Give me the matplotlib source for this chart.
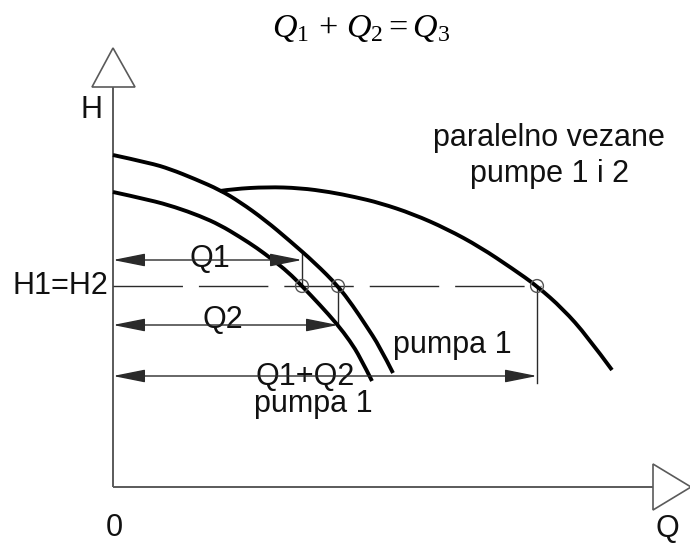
import matplotlib
matplotlib.use("Agg")
import matplotlib.pyplot as plt
from matplotlib.patches import Polygon, FancyArrowPatch, PathPatch
from matplotlib.path import Path

plt.rcParams["font.family"] = ["Liberation Sans", "DejaVu Sans"]
plt.rcParams["mathtext.fontset"] = "custom"
plt.rcParams["mathtext.rm"] = "Liberation Serif"
plt.rcParams["mathtext.it"] = "Liberation Serif:italic"

# pump characteristic curves, (Q, H) in diagram units
pump_upper_q = [0, 37, 57, 82, 107, 127, 152, 177, 202, 225, 240, 252, 267, 280]
pump_upper_h = [332, 324, 318, 308, 297, 285, 267, 246, 224, 201, 181, 163, 140, 114]

pump_lower_q = [0, 37, 62, 87, 107, 127, 144, 160, 175, 189, 207, 224, 237, 247, 259]
pump_lower_h = [295, 287, 280, 271, 262, 250, 239, 227, 215, 201, 182, 163, 146, 130, 106]

parallel_q = [107, 120, 154, 187, 217, 242, 267, 300, 334, 367, 400, 424, 450, 474, 499]
parallel_h = [296, 298, 300, 299, 295, 290, 284, 273, 258, 240, 218, 201, 178, 151, 117]

# operating point: common head and the flows read at it
head_common = 201
flow_q1 = 189
flow_q2 = 225
flow_total = 424

# heights of the dimension arrows
dim_h_q1 = 227
dim_h_q2 = 162
dim_h_total = 111

title_text = r"$\mathit{Q_1}\,+\,\mathit{Q_2}=\mathit{Q_3}$"
lbl_q1, lbl_q2, lbl_total = "Q1", "Q2", "Q1+Q2"
lbl_pump = "pumpa 1"
lbl_parallel = "paralelno vezane\npumpe 1 i 2"
lbl_head = "H1=H2"

fig = plt.figure(figsize=(6.9, 5.43), dpi=100)
ax = fig.add_axes([0, 0, 1, 1])
ax.set_xlim(-113, 577)
ax.set_ylim(-56, 487)
ax.axis("off")

axis_col = "#5a5a5a"
thin_col = "#2a2a2a"
txt_col = "#111111"

# coordinate axes with hollow arrow tips
ax.plot([0, 0], [0, 400], color=axis_col, lw=1.4, solid_capstyle="butt")
ax.plot([0, 540], [0, 0], color=axis_col, lw=1.4, solid_capstyle="butt")
ax.add_patch(Polygon([(-21, 400), (22, 400), (0, 439)], closed=True,
                     facecolor="white", edgecolor=axis_col, lw=1.2))
ax.add_patch(Polygon([(540, -23), (540, 23), (578, 0)], closed=True,
                     facecolor="white", edgecolor=axis_col, lw=1.2))


def smooth_curve(qs, hs):
    """Quadratic Bezier chain using the read points as control points."""
    pts = list(zip(qs, hs))
    verts = [pts[0]]
    codes = [Path.MOVETO]
    for i in range(1, len(pts) - 1):
        mid = ((pts[i][0] + pts[i + 1][0]) / 2, (pts[i][1] + pts[i + 1][1]) / 2)
        if i == len(pts) - 2:
            mid = pts[-1]
        verts += [pts[i], mid]
        codes += [Path.CURVE3, Path.CURVE3]
    ax.add_patch(PathPatch(Path(verts, codes), facecolor="none", edgecolor="black",
                           lw=2.8, capstyle="butt", joinstyle="round", zorder=3))


smooth_curve(pump_upper_q, pump_upper_h)
smooth_curve(pump_lower_q, pump_lower_h)
smooth_curve(parallel_q, parallel_h)

# common head line
ax.plot([0, flow_total + 4], [head_common, head_common], color=thin_col, lw=1.0,
        linestyle=(0, (50, 11.5)))

# vertical projection lines
ax.plot([flow_q1, flow_q1], [head_common, dim_h_q1 + 7], color=thin_col, lw=1.0)
ax.plot([flow_q2, flow_q2], [head_common, dim_h_q2], color=thin_col, lw=1.0)
ax.plot([flow_total, flow_total], [head_common, dim_h_total - 7], color=thin_col, lw=1.0)

# operating points
ax.scatter([flow_q1, flow_q2, flow_total], [head_common] * 3, s=85,
           facecolors="none", edgecolors="#555555", linewidths=1.0, zorder=5)


def dim_arrow(q_end, h):
    ax.add_patch(FancyArrowPatch((0, h), (q_end, h),
                                 arrowstyle="<|-|>,head_length=20,head_width=4",
                                 mutation_scale=1, shrinkA=0, shrinkB=0,
                                 lw=1.0, color=thin_col, zorder=4))


dim_arrow(flow_q1, dim_h_q1)
dim_arrow(flow_q2, dim_h_q2)
dim_arrow(flow_total, dim_h_total)

fs = 22
ax.text(248, 459, title_text, fontsize=24.5, ha="center", va="center", color="black")
ax.text(-21, 377, "H", fontsize=fs, ha="center", va="center", color=txt_col)
ax.text(-5, 201, lbl_head, fontsize=fs, ha="right", va="center", color=txt_col)
ax.text(97, 220, lbl_q1, fontsize=fs, ha="center", va="baseline", color=txt_col)
ax.text(110, 159, lbl_q2, fontsize=fs, ha="center", va="baseline", color=txt_col)
ax.text(192, 102, lbl_total, fontsize=fs, ha="center", va="baseline", color=txt_col)
ax.text(339, 134, lbl_pump, fontsize=fs, ha="center", va="baseline", color=txt_col)
ax.text(200, 75, lbl_pump, fontsize=fs, ha="center", va="baseline", color=txt_col)
ax.text(436, 305, lbl_parallel, fontsize=fs, ha="center", va="baseline",
        linespacing=1.25, color=txt_col, multialignment="center")
ax.text(1, -49, "0", fontsize=fs, ha="center", va="baseline", color=txt_col)
ax.text(554, -50, "Q", fontsize=fs, ha="center", va="baseline", color=txt_col)

fig.savefig("out.png", dpi=100)
